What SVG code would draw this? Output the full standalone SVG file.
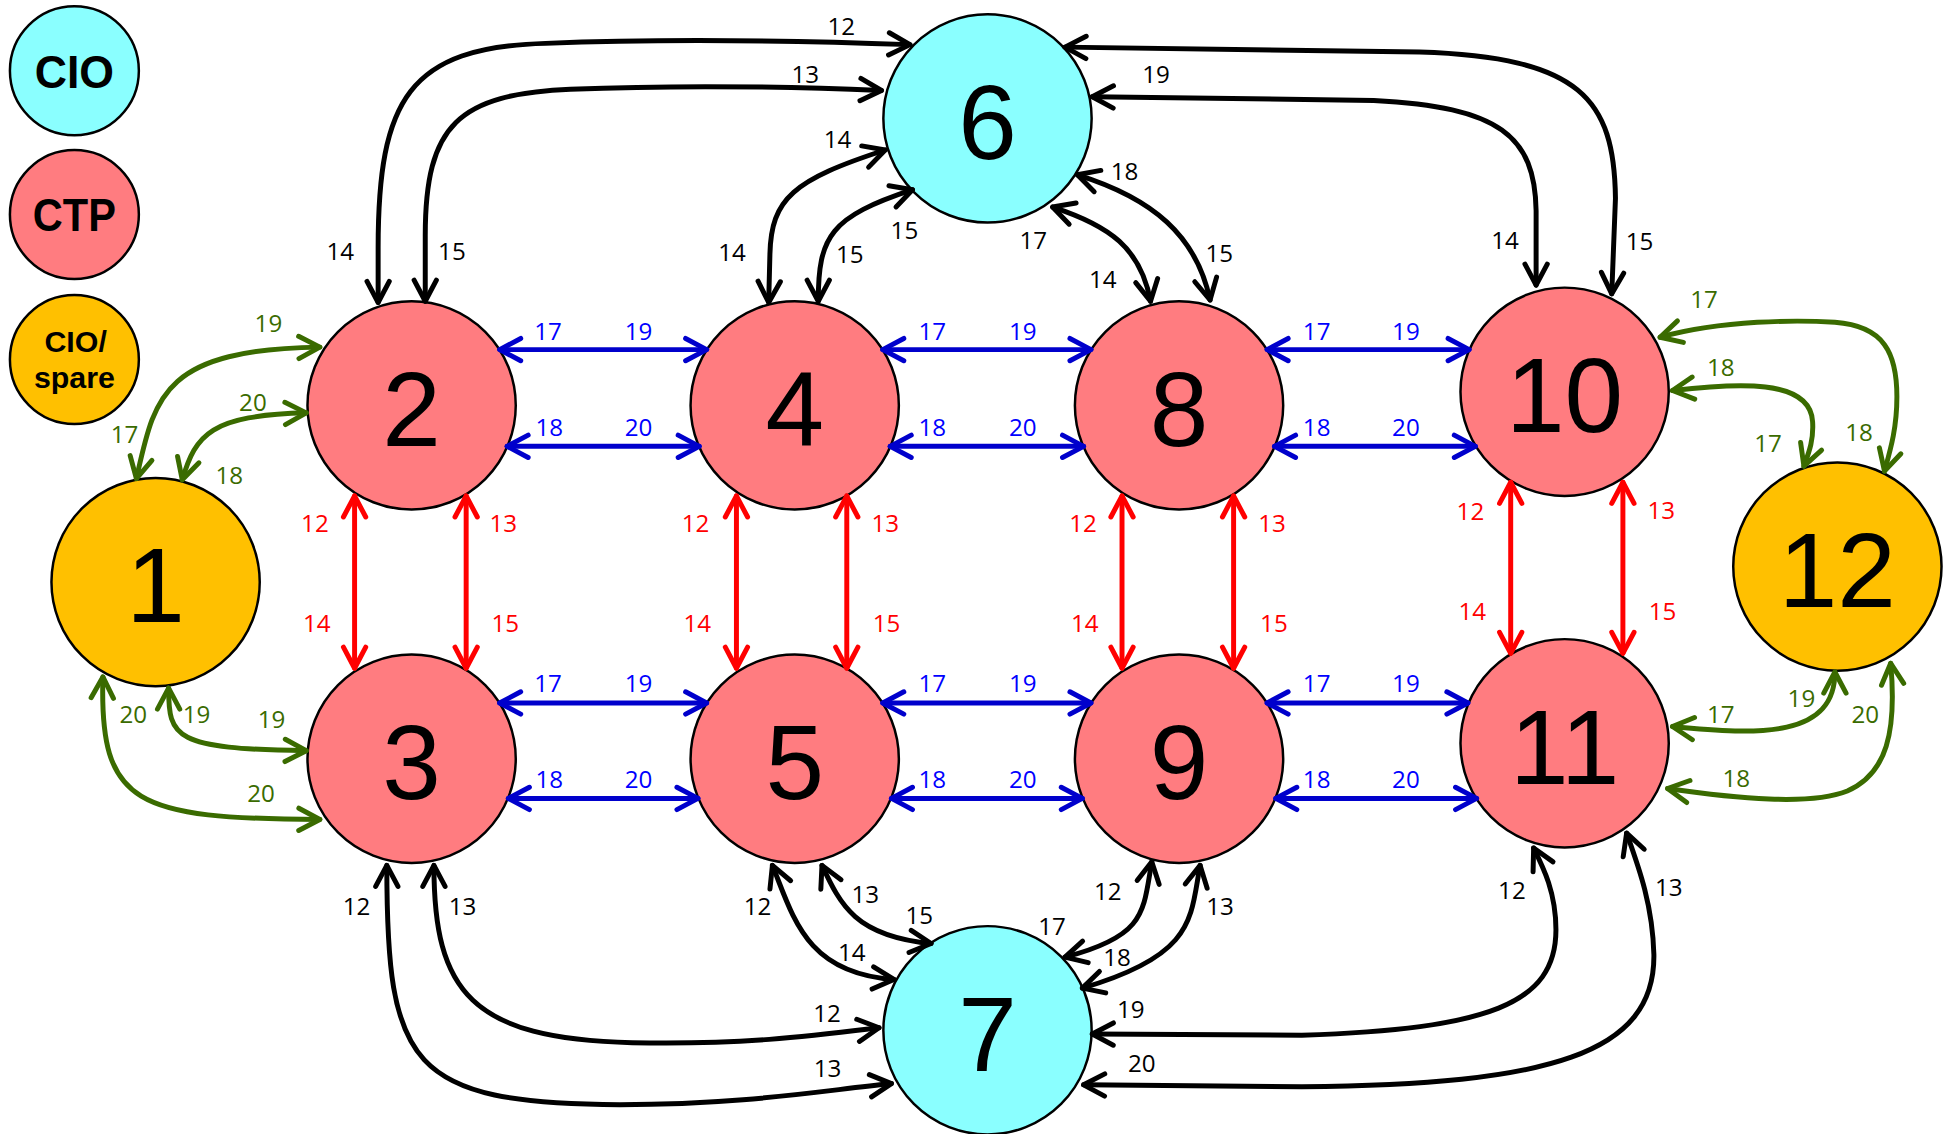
<svg xmlns="http://www.w3.org/2000/svg" width="1944" height="1134" viewBox="0 0 1944 1134">
  <style>
    .node circle { stroke: #000; stroke-width: 2; }
    .ctp { fill: #FF7C80; }
    .cio { fill: #8AFFFF; }
    .spare { fill: #FFC000; }
    .num { font-family: "Liberation Sans", Arial, sans-serif; font-size: 85px; text-anchor: middle; fill: #000; }
    .leg { font-family: "Liberation Sans", Arial, sans-serif; font-weight: bold; text-anchor: middle; fill: #000; }
    .c { fill: none; stroke-width: 4; stroke-linecap: round; stroke-linejoin: round; }
    .k { stroke: #000; marker-start: url(#ak); marker-end: url(#ak); }
    .b { stroke: #0000CC; marker-start: url(#ab); marker-end: url(#ab); }
    .r { stroke: #FF0000; marker-start: url(#ar); marker-end: url(#ar); }
    .g { stroke: #3A6B00; marker-start: url(#ag); marker-end: url(#ag); }
    .lbl { font-family: "Open Sans", "Noto Sans", sans-serif; font-size: 19.5px; text-anchor: middle; }
    .tk { fill: #000; }
    .tb { fill: #0000FF; }
    .tr { fill: #FF0000; }
    .tg { fill: #3A6B00; }
  </style>
  <defs>
    <marker id="ak" markerUnits="userSpaceOnUse" orient="auto-start-reverse" overflow="visible" refX="0" refY="0">
      <path d="M-17,-9 L0,0 L-17,9" fill="none" stroke="#000" stroke-width="4" stroke-linecap="round" stroke-linejoin="round"/>
    </marker>
    <marker id="ab" markerUnits="userSpaceOnUse" orient="auto-start-reverse" overflow="visible" refX="0" refY="0">
      <path d="M-17,-9 L0,0 L-17,9" fill="none" stroke="#0000CC" stroke-width="4" stroke-linecap="round" stroke-linejoin="round"/>
    </marker>
    <marker id="ar" markerUnits="userSpaceOnUse" orient="auto-start-reverse" overflow="visible" refX="0" refY="0">
      <path d="M-17,-9 L0,0 L-17,9" fill="none" stroke="#FF0000" stroke-width="4" stroke-linecap="round" stroke-linejoin="round"/>
    </marker>
    <marker id="ag" markerUnits="userSpaceOnUse" orient="auto-start-reverse" overflow="visible" refX="0" refY="0">
      <path d="M-17,-9 L0,0 L-17,9" fill="none" stroke="#3A6B00" stroke-width="4" stroke-linecap="round" stroke-linejoin="round"/>
    </marker>
  </defs>
  <rect width="1944" height="1134" fill="#fff"/>
  <g transform="scale(1.2398)">
    <!-- legend -->
    <g id="legend-cio" class="node"><circle class="cio" cx="60" cy="57" r="52"/><text class="leg" x="60" y="71" font-size="37.5" textLength="64" lengthAdjust="spacingAndGlyphs">CIO</text></g>
    <g id="legend-ctp" class="node"><circle class="ctp" cx="60" cy="173" r="52"/><text class="leg" x="60" y="186" font-size="37.5" textLength="67" lengthAdjust="spacingAndGlyphs">CTP</text></g>
    <g id="legend-spare" class="node"><circle class="spare" cx="60" cy="290" r="52"/><text class="leg" x="61" y="284" font-size="24.5">CIO/</text><text class="leg" x="60" y="313" font-size="24.5">spare</text></g>

    <!-- nodes -->
    <g id="node-1" class="node"><circle class="spare" cx="125.5" cy="469.5" r="84"/><text class="num" x="125.5" y="502">1</text></g>
    <g id="node-2" class="node"><circle class="ctp" cx="332" cy="327" r="84"/><text class="num" x="332" y="359.5">2</text></g>
    <g id="node-3" class="node"><circle class="ctp" cx="332" cy="612" r="84"/><text class="num" x="332" y="644.5">3</text></g>
    <g id="node-4" class="node"><circle class="ctp" cx="641" cy="327" r="84"/><text class="num" x="641" y="359.5">4</text></g>
    <g id="node-5" class="node"><circle class="ctp" cx="641" cy="612" r="84"/><text class="num" x="641" y="644.5">5</text></g>
    <g id="node-6" class="node"><circle class="cio" cx="796.5" cy="95.5" r="84"/><text class="num" x="796.5" y="128.5">6</text></g>
    <g id="node-7" class="node"><circle class="cio" cx="796.5" cy="831" r="84"/><text class="num" x="796.5" y="863.5">7</text></g>
    <g id="node-8" class="node"><circle class="ctp" cx="951" cy="327" r="84"/><text class="num" x="951" y="359.5">8</text></g>
    <g id="node-9" class="node"><circle class="ctp" cx="951" cy="612" r="84"/><text class="num" x="951" y="644.5">9</text></g>
    <g id="node-10" class="node"><circle class="ctp" cx="1262" cy="316" r="84"/><text class="num" x="1262" y="348.5">10</text></g>
    <g id="node-11" class="node"><circle class="ctp" cx="1262" cy="599.5" r="84"/><text class="num" x="1262" y="632">11</text></g>
    <g id="node-12" class="node"><circle class="spare" cx="1482" cy="457" r="84"/><text class="num" x="1482" y="489.5">12</text></g>

    <!-- connectors -->
    <g id="connectors">
      <!-- blue: horizontal links -->
      <path class="c b" d="M403,282 H570"/>
      <path class="c b" d="M712,282 H880"/>
      <path class="c b" d="M1022,282 H1185"/>
      <path class="c b" d="M409,360 H564"/>
      <path class="c b" d="M718,360 H874"/>
      <path class="c b" d="M1028,360 H1190"/>
      <path class="c b" d="M403,567 H570"/>
      <path class="c b" d="M712,567 H880"/>
      <path class="c b" d="M1022,567 H1184"/>
      <path class="c b" d="M410,644 H563"/>
      <path class="c b" d="M719,644 H873"/>
      <path class="c b" d="M1029,644 H1191"/>

      <!-- red: vertical links -->
      <path class="c r" d="M286,400 V539"/>
      <path class="c r" d="M376,400 V539"/>
      <path class="c r" d="M594,400 V539"/>
      <path class="c r" d="M683,400 V539"/>
      <path class="c r" d="M905,400 V539"/>
      <path class="c r" d="M995,400 V539"/>
      <path class="c r" d="M1218.5,389 V527"/>
      <path class="c r" d="M1309,389 V527"/>

      <!-- black: node 6 -->
      <path class="c k" d="M305,244 L305,200 C305,80 330,38 440,35 C540,31 650,33 734,36"/>
      <path class="c k" d="M343,243 L343,190 C343,100 370,76 460,72 C560,68 640,70 711,73"/>
      <path class="c k" d="M620,244 L621,205 C622,160 640,145 714,121"/>
      <path class="c k" d="M660,243 C660,190 670,175 736,153"/>
      <path class="c k" d="M849,167 C895,182 920,200 928,243"/>
      <path class="c k" d="M869,141 C930,160 965,190 976,242"/>
      <path class="c k" d="M859,38 L1145,42 C1275,46 1302,80 1303,160 L1300,237"/>
      <path class="c k" d="M881,78 L1108,81 C1210,86 1238,110 1239,170 L1239,230"/>

      <!-- black: node 7 -->
      <path class="c k" d="M312,698 C312,860 330,890 500,891 C600,891 660,880 719,874"/>
      <path class="c k" d="M350,698 C350,800 380,838 510,841 C600,843 660,835 709,829"/>
      <path class="c k" d="M623,698 C640,740 650,785 721,790"/>
      <path class="c k" d="M663,698 C678,730 690,755 751,761"/>
      <path class="c k" d="M929,695 C922,735 925,755 859,772"/>
      <path class="c k" d="M968,698 C960,740 965,770 873,797"/>
      <path class="c k" d="M881,834 L1050,835 C1200,830 1255,810 1255,750 C1255,720 1245,700 1237,684"/>
      <path class="c k" d="M874,875 L1050,876.5 C1250,875 1335,850 1334,770 C1333,730 1322,700 1312,672"/>

      <!-- green: spare nodes -->
      <path class="c g" d="M110,386 C125,320 130,282 258,280"/>
      <path class="c g" d="M147,387 C158,350 170,335 247,333"/>
      <path class="c g" d="M136,555 C136,595 140,604 247,605.5"/>
      <path class="c g" d="M83,546 C80,650 110,660 258,661"/>
      <path class="c g" d="M1339,272 C1390,258 1450,258 1480,260 C1520,263 1530,285 1530,320 C1530,345 1525,362 1520,380"/>
      <path class="c g" d="M1349,315 C1400,309 1460,305 1462,340 C1463,355 1459,365 1455,376"/>
      <path class="c g" d="M1349,586 C1420,593 1480,595 1480,542"/>
      <path class="c g" d="M1345,636 C1400,644 1460,650 1490,638 C1522,624 1530,590 1525,535"/>
    </g>

    <!-- connector labels -->
    <g id="labels" class="lbl">
      <g class="tb">
        <text x="442" y="274">17</text><text x="515" y="274">19</text>
        <text x="752" y="274">17</text><text x="825" y="274">19</text>
        <text x="1062" y="274">17</text><text x="1134" y="274">19</text>
        <text x="443" y="352">18</text><text x="515" y="352">20</text>
        <text x="752" y="352">18</text><text x="825" y="352">20</text>
        <text x="1062" y="352">18</text><text x="1134" y="352">20</text>
        <text x="442" y="558">17</text><text x="515" y="558">19</text>
        <text x="752" y="558">17</text><text x="825" y="558">19</text>
        <text x="1062" y="558">17</text><text x="1134" y="558">19</text>
        <text x="443" y="635.5">18</text><text x="515" y="635.5">20</text>
        <text x="752" y="635.5">18</text><text x="825" y="635.5">20</text>
        <text x="1062" y="635.5">18</text><text x="1134" y="635.5">20</text>
      </g>
      <g class="tr">
        <text x="254" y="429.5">12</text><text x="255.5" y="509.5">14</text>
        <text x="406" y="429.5">13</text><text x="407.5" y="509.5">15</text>
        <text x="561" y="429.5">12</text><text x="562.5" y="509.5">14</text>
        <text x="714" y="429.5">13</text><text x="715" y="509.5">15</text>
        <text x="873.5" y="429.5">12</text><text x="875" y="509.5">14</text>
        <text x="1026" y="429.5">13</text><text x="1027.5" y="509.5">15</text>
        <text x="1186" y="419.5">12</text><text x="1187.5" y="500">14</text>
        <text x="1340" y="419">13</text><text x="1341" y="500">15</text>
      </g>
      <g class="tk">
        <text x="678.5" y="28">12</text>
        <text x="649.5" y="67">13</text>
        <text x="274.5" y="209.5">14</text>
        <text x="364.5" y="209.5">15</text>
        <text x="675.5" y="119">14</text>
        <text x="729.5" y="193">15</text>
        <text x="590.5" y="210.5">14</text>
        <text x="685.5" y="212.5">15</text>
        <text x="907" y="145">18</text>
        <text x="833.5" y="201">17</text>
        <text x="889.5" y="232.5">14</text>
        <text x="983.5" y="211">15</text>
        <text x="932.5" y="67">19</text>
        <text x="1214" y="201">14</text>
        <text x="1322.5" y="202">15</text>
        <text x="287.5" y="738">12</text>
        <text x="373" y="738">13</text>
        <text x="667" y="824">12</text>
        <text x="667.5" y="868.5">13</text>
        <text x="611" y="738">12</text>
        <text x="698" y="728.5">13</text>
        <text x="741.5" y="745.5">15</text>
        <text x="687" y="775.5">14</text>
        <text x="893.5" y="726">12</text>
        <text x="984" y="738">13</text>
        <text x="848.5" y="754">17</text>
        <text x="901" y="779.5">18</text>
        <text x="912" y="821.5">19</text>
        <text x="921" y="864.5">20</text>
        <text x="1219.5" y="725.5">12</text>
        <text x="1346" y="722.5">13</text>
      </g>
      <g class="tg">
        <text x="216.5" y="267.5">19</text>
        <text x="204" y="331.5">20</text>
        <text x="100.5" y="357.5">17</text>
        <text x="185" y="390">18</text>
        <text x="107.5" y="583.5">20</text>
        <text x="158.5" y="583.5">19</text>
        <text x="219" y="587.5">19</text>
        <text x="210.5" y="646.5">20</text>
        <text x="1374.5" y="248.5">17</text>
        <text x="1388" y="303.5">18</text>
        <text x="1426" y="364.5">17</text>
        <text x="1499.5" y="355.5">18</text>
        <text x="1453" y="570">19</text>
        <text x="1504.5" y="583.5">20</text>
        <text x="1388" y="583.5">17</text>
        <text x="1400.5" y="634.5">18</text>
      </g>
    </g>
  </g>
</svg>
